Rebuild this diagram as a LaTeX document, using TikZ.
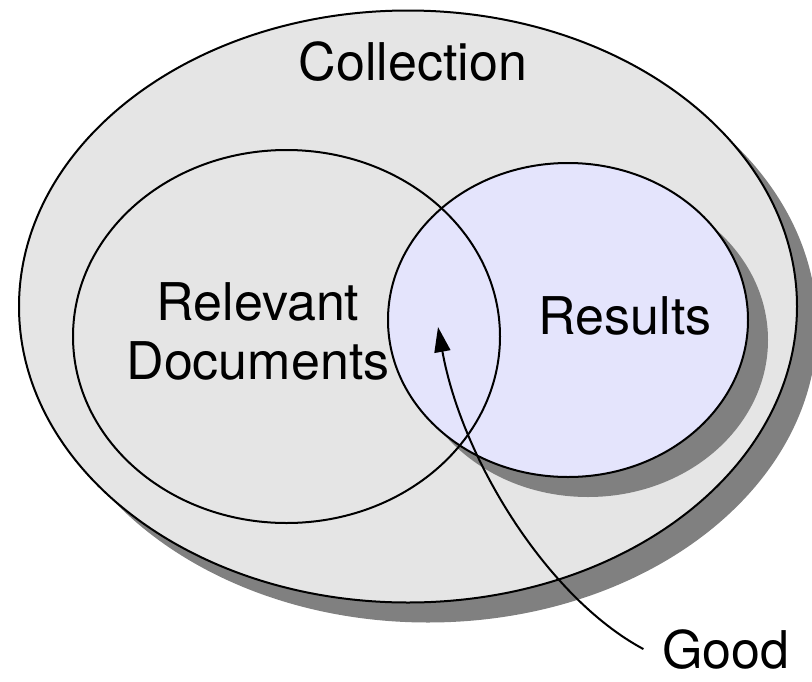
\documentclass[tikz,border=0pt]{standalone}
\usepackage{fontspec}
\setmainfont{TeX Gyre Heros}
\usetikzlibrary{shadows,arrows.meta}
\definecolor{lavender}{RGB}{228,228,252}

\begin{document}
\begin{tikzpicture}[x=1pt,y=-1pt,
    every node/.style={font=\fontsize{52}{59}\selectfont},
    setline/.style={draw,line width=2pt},
    castshadow/.style={drop shadow={shadow xshift=20pt,shadow yshift=-20pt,opacity=1,fill=gray}}]
    \useasboundingbox (0,0) rectangle (812,681);

    % the whole collection
    \filldraw[setline,fill=gray!20,castshadow] (408,306.5) ellipse [x radius=389pt,y radius=296pt];

    % results filled first, both outlines on top
    \fill[lavender,castshadow] (568,320) ellipse [x radius=180pt,y radius=157pt];
    \draw[setline] (286.5,336.5) ellipse [x radius=213.5pt,y radius=186.5pt];
    \draw[setline] (568,320) ellipse [x radius=180pt,y radius=157pt];

    \node[anchor=base] (coll) at (413,80) {Collection};
    \node[align=center] (rel) at (258,331) {Relevant\\Documents};
    \node[anchor=base] (res) at (625,334) {Results};
    \node[anchor=base,inner sep=2pt,outer xsep=17pt] (good) at (726,668) {Good};

    \coordinate (hit) at (438,327);
    \draw[line width=2pt,-{Triangle[length=25pt,width=16pt]}] (good.west) .. controls (548,598) and (462,460) .. (hit);
\end{tikzpicture}
\end{document}
